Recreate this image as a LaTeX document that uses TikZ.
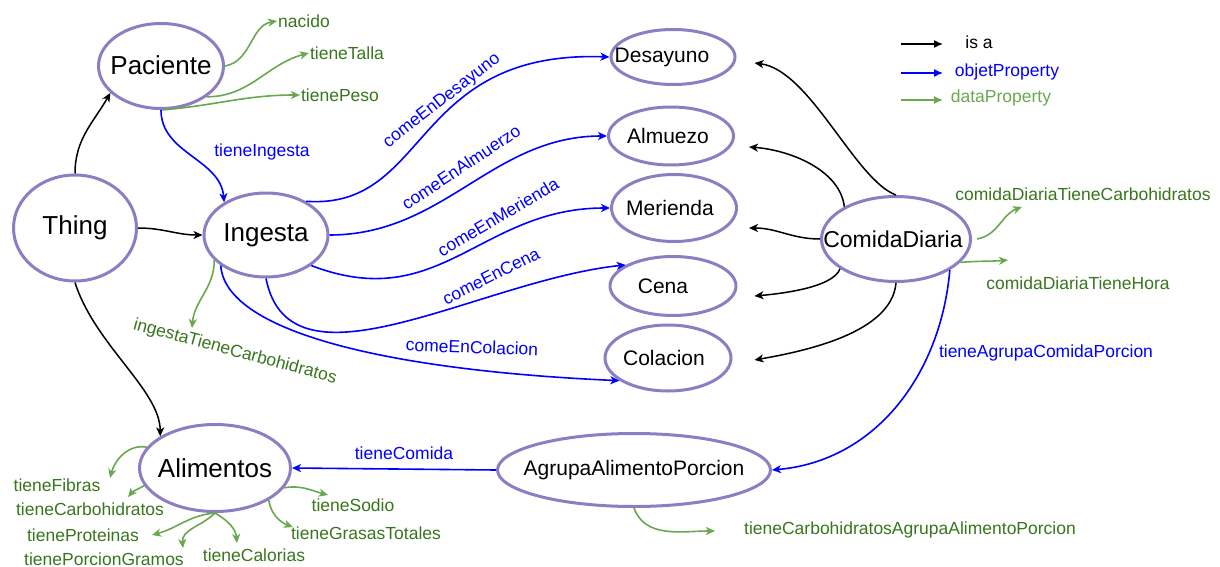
\documentclass[tikz,border=0pt]{standalone}
\usepackage{fontspec}
\setmainfont{Liberation Sans}
\usetikzlibrary{arrows.meta,shapes.geometric}
\definecolor{ellcol}{RGB}{141,126,196}
\definecolor{objblue}{RGB}{0,0,255}
\definecolor{greenline}{RGB}{106,168,79}
\definecolor{greentext}{RGB}{56,118,29}
\newcommand\zw[2][0pt]{\makebox[0pt]{\hspace*{#1}#2}}
\tikzset{
  cls/.style={ellipse, draw=ellcol, line width=3pt, fill=white, inner sep=0pt},
  bigcls/.style={cls, font=\fontsize{26}{30}\selectfont},
  midcls/.style={cls, font=\fontsize{21}{25}\selectfont},
  tip/.style={-{Stealth[length=9pt,width=8pt,inset=2.5pt]}},
  isa/.style={draw=black, line width=1.5pt, tip},
  obj/.style={draw=objblue, line width=1.6pt, tip},
  dat/.style={draw=greenline, line width=1.6pt, tip},
  objlbl/.style={text=objblue, font=\fontsize{17.5}{20}\selectfont, inner sep=1pt},
  datlbl/.style={text=greentext, font=\fontsize{17.5}{20}\selectfont, inner sep=1pt},
  legtip/.style={-{Latex[length=9pt,width=8pt]}, line width=1.5pt}
}
\begin{document}
\begin{tikzpicture}[x=1pt,y=1pt]
\useasboundingbox (0,0) rectangle (1220,-567);

% classes
\node[bigcls, minimum width=125pt, minimum height=85pt] (Paciente) at (161,-66) {\zw{\raisebox{2pt}{Paciente}}};
\node[bigcls, minimum width=123pt, minimum height=106pt] (Thing) at (75,-228) {\zw{\raisebox{-4pt}{Thing}}};
\node[bigcls, minimum width=124pt, minimum height=84pt] (Ingesta) at (266,-235) {\zw{\raisebox{4pt}{Ingesta}}};
\node[bigcls, minimum width=151pt, minimum height=87pt] (Alimentos) at (215,-468) {\zw{Alimentos}};
\node[midcls, minimum width=124pt, minimum height=55pt] (Desayuno) at (673,-57) {\zw[-22pt]{Desayuno}};
\node[midcls, minimum width=125pt, minimum height=58pt] (Almuezo) at (671,-136) {\zw[-6pt]{Almuezo}};
\node[midcls, minimum width=125pt, minimum height=67pt] (Merienda) at (674,-208) {\zw[-8pt]{Merienda}};
\node[midcls, minimum width=126pt, minimum height=59pt] (Cena) at (673,-286) {\zw[-20pt]{Cena}};
\node[midcls, minimum width=126pt, minimum height=66pt] (Colacion) at (668,-358) {\zw[-8pt]{Colacion}};
\node[cls, font=\fontsize{23}{27}\selectfont, minimum width=149pt, minimum height=85pt] (ComidaDiaria) at (896,-239) {\zw[-6pt]{ComidaDiaria}};
\node[midcls, minimum width=273pt, minimum height=73pt] (Agrupa) at (634,-470) {\zw{\raisebox{3pt}{AgrupaAlimentoPorcion}}};

% labels
\node[datlbl] (nacido) at (304,-21) {nacido};
\node[datlbl] (tieneTalla) at (347,-53) {tieneTalla};
\node[datlbl] (tienePeso) at (340,-95) {tienePeso};
\node[objlbl] (lblIngesta) at (262,-152) {tieneIngesta};
\node[datlbl, rotate=-15] (lblIngCarb) at (235,-352) {ingestaTieneCarbohidratos};
\node[objlbl, rotate=38] (lblDes) at (442,-101) {comeEnDesayuno};
\node[objlbl, rotate=33.5] (lblAlm) at (461,-167) {comeEnAlmuerzo};
\node[objlbl, rotate=30.5] (lblMer) at (498,-217) {comeEnMerienda};
\node[objlbl, rotate=26.5] (lblCen) at (491,-276) {comeEnCena};
\node[objlbl, rotate=-2] (lblCol) at (472,-347) {comeEnColacion};
\node[objlbl] (lblAgr) at (1046,-353) {tieneAgrupaComidaPorcion};
\node[objlbl] (lblCom) at (404,-453) {tieneComida};
\node[datlbl] (lblCDC) at (1083,-194) {comidaDiariaTieneCarbohidratos};
\node[datlbl] (lblCDH) at (1078,-283) {comidaDiariaTieneHora};
\node[datlbl] (lblTCA) at (910,-530) {tieneCarbohidratosAgrupaAlimentoPorcion};
\node[datlbl] (lblFib) at (57,-485) {tieneFibras};
\node[datlbl] (lblCarb) at (90,-509) {tieneCarbohidratos};
\node[datlbl] (lblProt) at (83,-535) {tieneProteinas};
\node[datlbl] (lblPorc) at (104,-559) {tienePorcionGramos};
\node[datlbl] (lblCal) at (254,-555) {tieneCalorias};
\node[datlbl] (lblSod) at (353,-505) {tieneSodio};
\node[datlbl] (lblGras) at (366,-533) {tieneGrasasTotales};

% free ends
\coordinate (icEnd) at (192,-328);
\coordinate (cdcEnd) at (1022,-207);
\coordinate (cdhEnd) at (1008,-260);
\coordinate (agEnd) at (715,-531);
\coordinate (fibEnd) at (110,-478);
\coordinate (carbEnd) at (128,-497);
\coordinate (protEnd) at (152,-535);
\coordinate (porcEnd) at (183,-548);
\coordinate (calEnd) at (237,-543);
\coordinate (sodEnd) at (328,-495);
\coordinate (grasEnd) at (293,-527);

% is-a
\draw[isa] (Thing.north) to[out=90,in=240] (Paciente.208);
\draw[isa] (Thing.east) to[out=0,in=180] (Ingesta.west);
\draw[isa] (Thing.south) .. controls (95,-345) and (160,-390) .. (Alimentos.150);
\draw[isa] (ComidaDiaria.north) .. controls (855,-180) and (810,-70) .. ([xshift=18pt,yshift=-6pt]Desayuno.east);
\draw[isa] (ComidaDiaria.148) .. controls (840,-170) and (790,-150) .. ([xshift=14pt,yshift=-11pt]Almuezo.east);
\draw[isa] (ComidaDiaria.west) to[out=180,in=0] ([xshift=11pt,yshift=-20pt]Merienda.east);
\draw[isa] (ComidaDiaria.208) to[out=-110,in=5,looseness=0.6] ([xshift=17pt,yshift=-10pt]Cena.east);
\draw[isa] (ComidaDiaria.south) to[out=-95,in=10,looseness=0.8] ([xshift=22pt,yshift=-2pt]Colacion.east);

% object properties
\draw[obj] (Paciente.south) to[out=-90,in=95] (Ingesta.142);
\draw[obj] (Ingesta.40) .. controls (430,-210) and (410,-50) .. (Desayuno.west);
\draw[obj] (Ingesta.east) to[out=0,in=180] (Almuezo.west);
\draw[obj] (Ingesta.-34) .. controls (440,-315) and (480,-208) .. (Merienda.west);
\draw[obj] (Ingesta.south) .. controls (290,-400) and (480,-280) .. (Cena.156);
\draw[obj] (Ingesta.214) .. controls (225,-330) and (380,-370) .. (Colacion.205);
\draw[obj] (ComidaDiaria.-30) to[out=-95,in=5] (Agrupa.east);
\draw[obj] (Agrupa.west) -- (Alimentos.east);

% data properties
\draw[dat] (Paciente.east) to[out=10,in=190] (nacido.west);
\draw[dat] (Paciente.-34) to[out=0,in=195] (tieneTalla.west);
\draw[dat] (Paciente.-88) to[out=5,in=180] (tienePeso.west);
\draw[dat] (Ingesta.206) to[out=-90,in=85] (icEnd);
\draw[dat] ([xshift=5pt]ComidaDiaria.east) to[out=10,in=200] (cdcEnd);
\draw[dat] (ComidaDiaria.-20) to[out=5,in=185] (cdhEnd);
\draw[dat] (Agrupa.south) to[out=-70,in=180] (agEnd);
\draw[dat] (Alimentos.163) to[out=170,in=75] (fibEnd);
\draw[dat] (Alimentos.194) to[out=210,in=50] (carbEnd);
\draw[dat] (Alimentos.south) to[out=185,in=15] (protEnd);
\draw[dat] (Alimentos.south) to[out=225,in=95] (porcEnd);
\draw[dat] (Alimentos.south) to[out=-30,in=95] (calEnd);
\draw[dat] (Alimentos.-16) to[out=10,in=165] (sodEnd);
\draw[dat] (Alimentos.-31) to[out=-80,in=160] (grasEnd);

% legend
\coordinate (la1) at (901,-44); \coordinate (lb1) at (943,-44);
\coordinate (la2) at (901,-73); \coordinate (lb2) at (943,-73);
\coordinate (la3) at (901,-100); \coordinate (lb3) at (943,-100);
\draw[legtip, black] (la1) -- (lb1);
\draw[legtip, objblue] (la2) -- (lb2);
\draw[legtip, greenline] (la3) -- (lb3);
\node[font=\fontsize{17.5}{20}\selectfont, inner sep=1pt] (legIsa) at (979,-42) {is a};
\node[objlbl] (legObj) at (1007,-72) {objetProperty};
\node[text=greenline, font=\fontsize{17.5}{20}\selectfont, inner sep=1pt] (legDat) at (1001,-98) {dataProperty};
\end{tikzpicture}
\end{document}
